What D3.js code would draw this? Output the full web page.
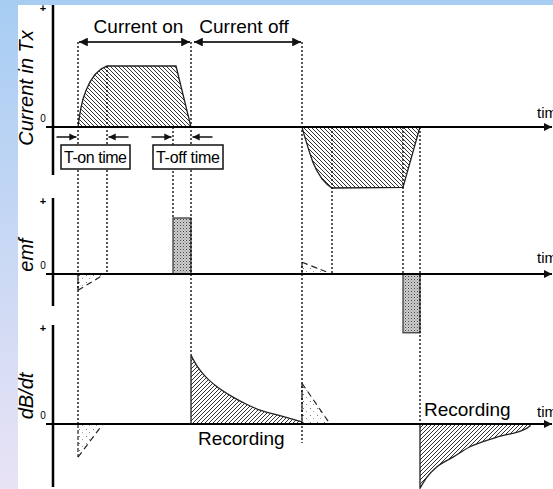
<!DOCTYPE html>
<html>
<head>
<meta charset="utf-8">
<script src="https://cdn.jsdelivr.net/npm/d3@7"></script>
<style>
  body { margin: 0; background: #fff; }
  svg { display: block; font-family: "Liberation Sans", Arial, sans-serif; }
</style>
</head>
<body>
<script>
var width = 553;
var height = 489;

// time markers (arbitrary time units)
var tOn = [5, 10.8];          // start / end of turn-on ramp
var tOffA = [24, 27.6];       // start / end of first turn-off ramp
var tOnB = [49.8, 55.8];      // start / end of negative turn-on ramp
var tOffB = [70, 73.4];       // start / end of second turn-off ramp

// current in Tx
var currentPosT = [5, 5.3, 5.6, 6, 6.6, 7.4, 8.4, 9.6, 10.8, 24.6, 27.6];
var currentPosV = [0, 0.18, 0.32, 0.46, 0.6, 0.74, 0.86, 0.95, 1, 1, 0];
var currentNegT = [49.8, 50.2, 50.8, 51.4, 52, 52.8, 53.8, 54.8, 55.8, 70, 73.4];
var currentNegV = [0, -0.12, -0.28, -0.44, -0.58, -0.72, -0.85, -0.94, -1, -0.99, 0];

// emf
var emfBoxT = [[24, 27.6], [70, 73.4]];
var emfBoxV = [1, -1.05];
var emfTriT = [[5, 10.4], [49.8, 55.8]];
var emfTriV = [-0.29, 0.21];

// dB/dt
var dbdtPosT = [27.6, 28.4, 29.4, 31, 32.8, 36, 38.6, 41.4, 45.4, 49.8];
var dbdtPosV = [1, 0.89, 0.78, 0.65, 0.54, 0.39, 0.29, 0.2, 0.12, 0.03];
var dbdtNegT = [73.4, 74.8, 76.8, 80, 83.4, 88.8, 94.8, 95.4];
var dbdtNegV = [-0.93, -0.77, -0.62, -0.48, -0.33, -0.19, -0.06, -0.03];
var dbdtTriT = [[5, 10], [49.8, 55.4]];
var dbdtTriV = [-0.48, 0.59];

var panelLabels = ["Current in Tx", "emf", "dB/dt"];

var svg = d3.select("body").append("svg")
    .attr("width", width)
    .attr("height", height);

var defs = svg.append("defs");

// background frame
var bg = defs.append("linearGradient")
    .attr("id", "frame")
    .attr("x1", "0%").attr("y1", "0%")
    .attr("x2", "0%").attr("y2", "100%");
bg.append("stop").attr("offset", "0%").attr("stop-color", "#a7cdf3");
bg.append("stop").attr("offset", "100%").attr("stop-color", "#e9e3f5");

svg.append("rect").attr("width", width).attr("height", height).attr("fill", "#fff");
svg.append("rect").attr("x", 0).attr("y", 0).attr("width", 18).attr("height", height)
    .attr("fill", "url(#frame)");
svg.append("rect").attr("x", 0).attr("y", 0).attr("width", width).attr("height", 5)
    .attr("fill", "#a7cdf3");

// patterns
function hatch(id, dir) {
    var p = defs.append("pattern")
        .attr("id", id)
        .attr("patternUnits", "userSpaceOnUse")
        .attr("width", 4).attr("height", 4);
    p.append("rect").attr("width", 4).attr("height", 4).attr("fill", "#fff");
    if (dir > 0) {
        p.append("path").attr("d", "M-1,1 L1,-1 M0,4 L4,0 M3,5 L5,3");
    } else {
        p.append("path").attr("d", "M-1,3 L1,5 M0,0 L4,4 M3,-1 L5,1");
    }
    p.select("path").attr("stroke", "#333").attr("stroke-width", 1);
}
hatch("hatchBack", -1);
hatch("hatchFwd", 1);

var stip = defs.append("pattern")
    .attr("id", "stipple")
    .attr("patternUnits", "userSpaceOnUse")
    .attr("width", 3).attr("height", 3);
stip.append("rect").attr("width", 3).attr("height", 3).attr("fill", "#cfcfcf");
stip.append("rect").attr("width", 1).attr("height", 1).attr("fill", "#444");
stip.append("rect").attr("x", 1.5).attr("y", 1.5).attr("width", 1).attr("height", 1).attr("fill", "#777");

var sparse = defs.append("pattern")
    .attr("id", "sparse")
    .attr("patternUnits", "userSpaceOnUse")
    .attr("width", 7).attr("height", 7);
sparse.append("rect").attr("width", 7).attr("height", 7).attr("fill", "#fff");
sparse.append("rect").attr("x", 2).attr("y", 2).attr("width", 1).attr("height", 1).attr("fill", "#777");
sparse.append("rect").attr("x", 5).attr("y", 5).attr("width", 1).attr("height", 1).attr("fill", "#999");

function marker(id, size) {
    defs.append("marker")
        .attr("id", id)
        .attr("viewBox", "0 0 10 10")
        .attr("refX", 10).attr("refY", 5)
        .attr("markerUnits", "userSpaceOnUse")
        .attr("markerWidth", size).attr("markerHeight", size * 0.8)
        .attr("orient", "auto-start-reverse")
        .append("path")
        .attr("d", "M0,0 L10,5 L0,10 Z")
        .attr("fill", "#111");
}
marker("arrowBig", 11);
marker("arrowSmall", 9);
marker("arrowAxis", 10);

// scales
var x = d3.scaleLinear().domain([0, 100]).range([53, 553]);
var y1 = d3.scaleLinear().domain([-1, 1]).range([188, 66]);
var y2 = d3.scaleLinear().domain([-1, 1]).range([330, 218]);
var y3 = d3.scaleLinear().domain([-1, 1]).range([493, 355]);

var panels = [
    {y: y1, top: 5, bottom: 175, label: panelLabels[0], lx: 26, ly: 88, tline: 118},
    {y: y2, top: 198, bottom: 306, label: panelLabels[1], lx: 26, ly: 255, tline: 263},
    {y: y3, top: 325, bottom: 487, label: panelLabels[2], lx: 26, ly: 396, tline: 417}
];

function zip(ts, vs) {
    return ts.map(function(t, i) { return [t, vs[i]]; });
}

// dotted guide lines
var guides = [
    [tOn[0], y1(0) - 85, y3(0)],
    [tOn[1], y1(1), y2(0)],
    [tOffA[0], y1(0), y2(1)],
    [tOffA[1], y1(0) - 85, y3(1)],
    [tOnB[0], y1(0) - 85, y3(0) + 19],
    [tOnB[1], y1(0), y2(0)],
    [tOffB[0], y1(0), y2(0)],
    [tOffB[1], y1(0), y3(0)]
];

var g = svg.append("g");

// curves
function areaFor(yScale, curve) {
    return d3.area()
        .x(function(d) { return x(d[0]); })
        .y0(yScale(0))
        .y1(function(d) { return yScale(d[1]); })
        .curve(curve);
}

g.append("path")
    .datum(zip(currentPosT, currentPosV))
    .attr("d", areaFor(y1, d3.curveLinear))
    .attr("fill", "url(#hatchBack)")
    .attr("stroke", "#222").attr("stroke-width", 1.3);

g.append("path")
    .datum(zip(currentNegT, currentNegV))
    .attr("d", areaFor(y1, d3.curveLinear))
    .attr("fill", "url(#hatchBack)")
    .attr("stroke", "#222").attr("stroke-width", 1.3);

g.append("path")
    .datum(zip(dbdtPosT, dbdtPosV))
    .attr("d", areaFor(y3, d3.curveMonotoneX))
    .attr("fill", "url(#hatchFwd)")
    .attr("stroke", "#222").attr("stroke-width", 1.3);

g.append("path")
    .datum(zip(dbdtNegT, dbdtNegV))
    .attr("d", areaFor(y3, d3.curveMonotoneX))
    .attr("fill", "url(#hatchFwd)")
    .attr("stroke", "#222").attr("stroke-width", 1.3);

// emf boxes
g.selectAll(".emfbox")
    .data(emfBoxT)
    .enter().append("rect")
    .attr("class", "emfbox")
    .attr("x", function(d) { return x(d[0]); })
    .attr("width", function(d) { return x(d[1]) - x(d[0]); })
    .attr("y", function(d, i) { return Math.min(y2(emfBoxV[i]), y2(0)); })
    .attr("height", function(d, i) { return Math.abs(y2(emfBoxV[i]) - y2(0)); })
    .attr("fill", "url(#stipple)")
    .attr("stroke", "#333").attr("stroke-width", 1.2);

// small dashed triangles
function triangles(ts, vs, yScale) {
    ts.forEach(function(t, i) {
        var pts = [[t[0], 0], [t[0], vs[i]], [t[1], 0]];
        g.append("path")
            .attr("d", "M" + pts.map(function(p) { return x(p[0]) + "," + yScale(p[1]); }).join("L") + "Z")
            .attr("fill", "url(#sparse)")
            .attr("stroke", "none");
        g.append("line")
            .attr("x1", x(t[0])).attr("y1", yScale(vs[i]))
            .attr("x2", x(t[1])).attr("y2", yScale(0))
            .attr("stroke", "#222").attr("stroke-width", 1.2)
            .attr("stroke-dasharray", "6,4");
        g.append("line")
            .attr("x1", x(t[0])).attr("y1", yScale(0))
            .attr("x2", x(t[0])).attr("y2", yScale(vs[i]))
            .attr("stroke", "#222").attr("stroke-width", 1.2)
            .attr("stroke-dasharray", "4,2");
    });
}
triangles(emfTriT, emfTriV, y2);
triangles(dbdtTriT, dbdtTriV, y3);

// guides
g.selectAll(".guide")
    .data(guides)
    .enter().append("line")
    .attr("class", "guide")
    .attr("x1", function(d) { return x(d[0]); })
    .attr("x2", function(d) { return x(d[0]); })
    .attr("y1", function(d) { return d[1]; })
    .attr("y2", function(d) { return d[2]; })
    .attr("stroke", "#000").attr("stroke-width", 1.3)
    .attr("stroke-dasharray", "2,2");

// axes
panels.forEach(function(p) {
    var z = p.y(0);
    svg.append("line")
        .attr("x1", 53).attr("x2", 53)
        .attr("y1", p.top).attr("y2", p.bottom)
        .attr("stroke", "#000").attr("stroke-width", 2.5);
    svg.append("line")
        .attr("x1", 46).attr("x2", 552)
        .attr("y1", z).attr("y2", z)
        .attr("stroke", "#000").attr("stroke-width", 2)
        .attr("marker-end", "url(#arrowAxis)");
    svg.append("text")
        .attr("x", 43).attr("y", p.top + 7)
        .attr("text-anchor", "middle")
        .attr("font-size", 11)
        .attr("font-weight", "bold")
        .text("+");
    svg.append("text")
        .attr("x", 43).attr("y", z - 5)
        .attr("text-anchor", "middle")
        .attr("font-size", 10)
        .text("0");
    svg.append("text")
        .attr("transform", "translate(" + (p.lx + 7) + "," + p.ly + ") rotate(-90)")
        .attr("text-anchor", "middle")
        .attr("font-size", 20)
        .attr("font-style", "italic")
        .text(p.label);
    // label runs past the right edge, as in the original figure
    svg.append("text")
        .attr("x", 537).attr("y", p.tline)
        .attr("font-size", 15)
        .text("time");
});

// current on / off arrows
var topY = y1(0) - 85;
svg.append("line")
    .attr("x1", x(tOn[0]) + 1).attr("x2", x(tOffA[1]) - 1)
    .attr("y1", topY).attr("y2", topY)
    .attr("stroke", "#333").attr("stroke-width", 2)
    .attr("marker-start", "url(#arrowBig)")
    .attr("marker-end", "url(#arrowBig)");
svg.append("line")
    .attr("x1", x(tOffA[1]) + 3).attr("x2", x(tOnB[0]) - 1)
    .attr("y1", topY).attr("y2", topY)
    .attr("stroke", "#333").attr("stroke-width", 2)
    .attr("marker-start", "url(#arrowBig)")
    .attr("marker-end", "url(#arrowBig)");
svg.append("text")
    .attr("x", (x(tOn[0]) + x(tOffA[1])) / 2 + 4).attr("y", 33)
    .attr("text-anchor", "middle")
    .attr("font-size", 19)
    .text("Current on");
svg.append("text")
    .attr("x", 244).attr("y", 33)
    .attr("text-anchor", "middle")
    .attr("font-size", 19)
    .text("Current off");

// T-on / T-off markers
var smallY = y1(0) + 10;
[[tOn[0], -1], [tOn[1], 1], [tOffA[0], -1], [tOffA[1], 1]].forEach(function(m) {
    var xe = x(m[0]) + m[1] * 1.5;
    svg.append("line")
        .attr("x1", xe + m[1] * 20).attr("x2", xe)
        .attr("y1", smallY).attr("y2", smallY)
        .attr("stroke", "#111").attr("stroke-width", 1.5)
        .attr("marker-end", "url(#arrowSmall)");
});

var boxes = [
    {text: "T-on time", x0: 61, x1: 130},
    {text: "T-off time", x0: 153, x1: 223}
];
boxes.forEach(function(b) {
    svg.append("rect")
        .attr("x", b.x0).attr("y", 145)
        .attr("width", b.x1 - b.x0).attr("height", 24)
        .attr("fill", "#fff")
        .attr("stroke", "#111").attr("stroke-width", 1.5);
    svg.append("text")
        .attr("x", (b.x0 + b.x1) / 2).attr("y", 163)
        .attr("text-anchor", "middle")
        .attr("font-size", 16)
        .attr("textLength", b.x1 - b.x0 - 6)
        .text(b.text);
});

// recording labels
svg.append("text")
    .attr("x", 198).attr("y", 445)
    .attr("font-size", 19)
    .text("Recording");
svg.append("text")
    .attr("x", 424).attr("y", 416)
    .attr("font-size", 19)
    .text("Recording");
</script>
</body>
</html>
